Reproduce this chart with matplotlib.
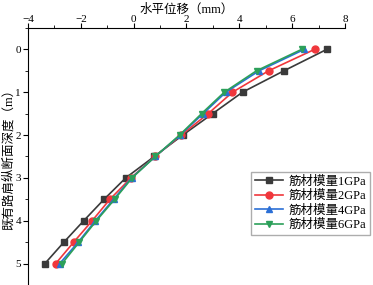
import matplotlib
matplotlib.use("Agg")
import matplotlib.pyplot as plt
from matplotlib.ticker import MultipleLocator

plt.rcParams['font.family'] = 'Liberation Serif'
cjk = ['Liberation Serif', 'Noto Sans CJK SC']

depth = [0, 0.5, 1.0, 1.5, 2.0, 2.5, 3.0, 3.5, 4.0, 4.5, 5.0]
disp_1gpa = [7.31, 5.69, 4.12, 2.99, 1.86, 0.78, -0.30, -1.12, -1.89, -2.64, -3.36]
disp_2gpa = [6.85, 5.11, 3.74, 2.82, 1.80, 0.81, -0.10, -0.90, -1.57, -2.27, -2.95]
disp_4gpa = [6.46, 4.75, 3.49, 2.63, 1.76, 0.82, -0.08, -0.76, -1.45, -2.10, -2.80]
disp_6gpa = [6.36, 4.65, 3.43, 2.57, 1.74, 0.82, -0.06, -0.72, -1.41, -2.06, -2.71]
labels = ['筋材模量1GPa', '筋材模量2GPa', '筋材模量4GPa', '筋材模量6GPa']

fig = plt.figure(figsize=(3.73, 2.85), dpi=100)
ax = fig.add_axes([0.075, 0.0, 0.85, 0.902])

ax.plot(disp_1gpa, depth, color='#3a3a3a', marker='s', ms=4.5, lw=1.2, label=labels[0])
ax.plot(disp_2gpa, depth, color='#f0373c', marker='o', ms=5, lw=1.2, label=labels[1])
ax.plot(disp_4gpa, depth, color='#2b6fd6', marker='^', ms=5, lw=1.2, label=labels[2])
ax.plot(disp_6gpa, depth, color='#2ca05a', marker='v', ms=5, lw=1.2, label=labels[3])

ax.set_xlim(-4, 8)
ax.set_ylim(5.5, -0.5)
ax.xaxis.set_ticks_position('top')
ax.xaxis.set_label_position('top')
ax.spines['right'].set_visible(False)
ax.spines['bottom'].set_visible(False)
ax.xaxis.set_major_locator(MultipleLocator(2))
ax.xaxis.set_minor_locator(MultipleLocator(1))
ax.yaxis.set_major_locator(MultipleLocator(1))
ax.yaxis.set_minor_locator(MultipleLocator(0.5))
ax.tick_params(which='major', length=3.5, labelsize=8, pad=1.5)
ax.tick_params(axis='x', which='major', pad=-1)
ax.tick_params(which='minor', length=2)

ax.set_xlabel('水平位移（mm）', fontsize=9, family=cjk)
ax.xaxis.set_label_coords(0.5, 1.06)
ax.set_ylabel('既有路肩纵断面深度（m）', fontsize=9, family=cjk)
ax.yaxis.set_label_coords(-0.042, 0.5)

ax.legend(loc='lower right', bbox_to_anchor=(1.099, 0.17), prop={'family': cjk, 'size': 9},
          frameon=True, fancybox=False, edgecolor='#999999', handlelength=2.2,
          borderpad=0.3, labelspacing=0.2, handletextpad=0.5)

fig.savefig('out.png', dpi=100)
